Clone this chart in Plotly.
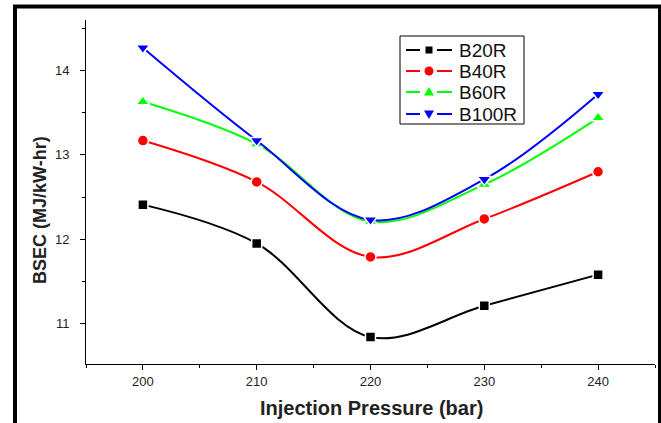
import plotly.graph_objects as go

# Injection pressure (bar) and BSEC (MJ/kW-hr) for each blend
pressure = [200, 210, 220, 230, 240]
b20r = [12.41, 11.95, 10.84, 11.21, 11.58]
b40r = [13.17, 12.68, 11.79, 12.24, 12.80]
b60r = [13.63, 13.13, 12.21, 12.65, 13.44]
b100r = [14.27, 13.17, 12.23, 12.71, 13.72]

series = [
    ("B20R", b20r, "black", "square", 10),
    ("B40R", b40r, "red", "circle", 11),
    ("B60R", b60r, "#00ff00", "triangle-up", 12),
    ("B100R", b100r, "blue", "triangle-down", 12),
]

# plot area in pixels: x 86..655, y 20..364
L, R, T, B = 86, 655, 20, 364


def px(x):
    return (x - L) / (R - L)


def py(y):
    return (B - y) / (B - T)


fig = go.Figure()
for name, vals, color, symbol, size in series:
    fig.add_trace(go.Scatter(
        x=pressure, y=vals, name=name, mode="lines+markers",
        line=dict(color=color, width=2, shape="spline", smoothing=1),
        marker=dict(symbol=symbol, size=size, color=color,
                    line=dict(color="white", width=1.5)),
    ))

axis_common = dict(
    showline=True, linecolor="black", linewidth=1, mirror=False,
    showgrid=False, zeroline=False, ticks="outside", ticklen=5,
    tickcolor="black", tickfont=dict(family="Arial", size=13, color="#222"),
)

fig.update_xaxes(range=[195, 245], dtick=10, tick0=200,
                 minor=dict(ticks="outside", ticklen=3, dtick=5, tick0=195, tickcolor="black"),
                 **axis_common)
fig.update_yaxes(range=[10.52, 14.6], dtick=1, tick0=11, ticklabelstandoff=8,
                 minor=dict(ticks="outside", ticklen=3, dtick=0.5, tick0=10.5, tickcolor="black"),
                 **axis_common)

# outer frame
fig.add_shape(type="rect", xref="paper", yref="paper",
              x0=px(15), x1=px(660), y0=py(440), y1=py(6.5),
              line=dict(color="black", width=4), fillcolor="rgba(0,0,0,0)")

# legend drawn by hand so the row spacing matches the original
fig.add_shape(type="rect", xref="paper", yref="paper",
              x0=px(400), x1=px(524), y0=py(124), y1=py(36),
              line=dict(color="black", width=1), fillcolor="white")
row_y = [50, 71, 92, 114]
for (name, vals, color, symbol, size), ry in zip(series, row_y):
    for xa, xb in [(406, 420), (437, 452)]:
        fig.add_shape(type="line", xref="paper", yref="paper",
                      x0=px(xa), x1=px(xb), y0=py(ry), y1=py(ry),
                      line=dict(color=color, width=2))
    cx = 429
    if symbol == "square":
        fig.add_shape(type="rect", xref="paper", yref="paper",
                      x0=px(cx - 3.5), x1=px(cx + 3.5), y0=py(ry + 3.5), y1=py(ry - 3.5),
                      line=dict(width=0), fillcolor=color)
    elif symbol == "circle":
        fig.add_shape(type="circle", xref="paper", yref="paper",
                      x0=px(cx - 4.5), x1=px(cx + 4.5), y0=py(ry + 4.5), y1=py(ry - 4.5),
                      line=dict(width=0), fillcolor=color)
    else:
        d = -1 if symbol == "triangle-up" else 1
        pts = [(cx - 5, ry - d * 3.5), (cx + 5, ry - d * 3.5), (cx, ry + d * 5)]
        path = "M" + " L".join(f"{px(a):.5f},{py(b):.5f}" for a, b in pts) + " Z"
        fig.add_shape(type="path", xref="paper", yref="paper", path=path,
                      line=dict(width=0), fillcolor=color)
    fig.add_annotation(text=name, xref="paper", yref="paper",
                       x=px(457), y=py(ry), xanchor="left", yanchor="middle",
                       showarrow=False, font=dict(family="Arial", size=19, color="#111"))

fig.add_annotation(text="<b>Injection Pressure (bar)</b>", xref="paper", yref="paper",
                   x=px(371), y=py(408), xanchor="center", yanchor="middle", showarrow=False,
                   font=dict(family="Arial", size=20, color="#222"))
fig.add_annotation(text="<b>BSEC (MJ/kW-hr)</b>", xref="paper", yref="paper",
                   x=px(40), y=py(210), xanchor="center", yanchor="middle", showarrow=False,
                   textangle=-90, font=dict(family="Arial", size=18, color="#222"))

fig.update_layout(
    width=661, height=423,
    margin=dict(l=L, r=661 - R, t=T, b=423 - B),
    plot_bgcolor="white", paper_bgcolor="white",
    showlegend=False,
)

# drop the default body margin so the figure fills the window exactly
fig.write_html("out.html", config={"displayModeBar": False},
               post_script="document.body.style.margin='0px';")
